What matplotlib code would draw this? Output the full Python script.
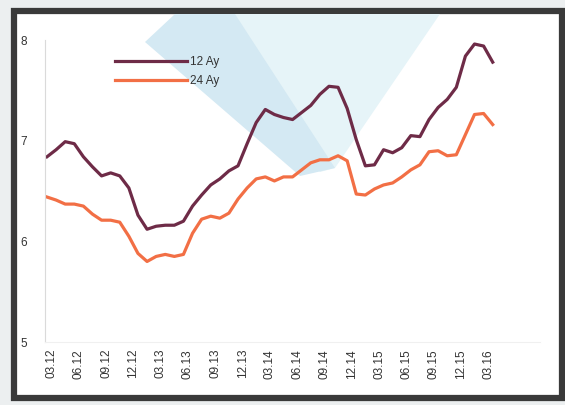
import matplotlib.pyplot as plt
from matplotlib.patches import Polygon, Rectangle
import numpy as np

plt.rcParams['font.family'] = ['Liberation Sans', 'DejaVu Sans']

# monthly values, 03.12 .. 04.16
ay12 = [6.84, 6.91, 6.99, 6.97, 6.84, 6.74, 6.65, 6.68, 6.65, 6.53,
        6.26, 6.12, 6.15, 6.16, 6.16, 6.20, 6.35, 6.46, 6.56, 6.62,
        6.70, 6.75, 6.97, 7.18, 7.31, 7.26, 7.23, 7.21, 7.28, 7.35,
        7.46, 7.54, 7.53, 7.32, 7.01, 6.75, 6.76, 6.91, 6.88, 6.93,
        7.05, 7.04, 7.21, 7.33, 7.41, 7.53, 7.84, 7.96, 7.94, 7.78]
ay24 = [6.44, 6.41, 6.37, 6.37, 6.35, 6.27, 6.21, 6.21, 6.19, 6.05,
        5.88, 5.80, 5.85, 5.87, 5.85, 5.87, 6.08, 6.22, 6.25, 6.23,
        6.28, 6.42, 6.53, 6.62, 6.64, 6.60, 6.64, 6.64, 6.71, 6.78,
        6.81, 6.81, 6.85, 6.80, 6.47, 6.46, 6.52, 6.56, 6.58, 6.64,
        6.71, 6.76, 6.89, 6.90, 6.85, 6.86, 7.06, 7.26, 7.27, 7.16]
tick_labels = ['03.12', '06.12', '09.12', '12.12', '03.13', '06.13', '09.13',
               '12.13', '03.14', '06.14', '09.14', '12.14', '03.15', '06.15',
               '09.15', '12.15', '03.16']

W, H = 565, 405
fig = plt.figure(figsize=(W / 100, H / 100), dpi=100)
fig.patch.set_facecolor('#eceff0')


def px(pts):
    # pixel coords (top-left origin) -> figure fraction
    return [(x / W, 1 - y / H) for x, y in pts]


# white slide + dark frame
fig.add_artist(Rectangle((14 / W, 1 - 398 / H), (562 - 14) / W, (398 - 11) / H,
                         transform=fig.transFigure, facecolor='white',
                         edgecolor='#3a3a3a', lw=4.5, zorder=0))
# light blue diagonal band behind the chart
fig.add_artist(Polygon(px([(175, 14), (440, 14), (335, 168), (320, 172)]),
                       closed=True, transform=fig.transFigure,
                       facecolor='#e6f4f8', edgecolor='none', zorder=0.5))
fig.add_artist(Polygon(px([(145, 42), (175, 14), (235, 14), (335, 168), (300, 176)]),
                       closed=True, transform=fig.transFigure,
                       facecolor='#d4e9f3', edgecolor='none', zorder=0.6))

ax = fig.add_axes([45 / W, 1 - 342 / H, (540 - 45) / W, (342 - 40) / H])
ax.set_zorder(2)
ax.patch.set_alpha(0)

x = np.arange(len(ay12))
ax.plot(x, ay12, color='#6e2b47', lw=2.3, label='12 Ay', solid_joinstyle='round')
ax.plot(x, ay24, color='#f26f45', lw=2.3, label='24 Ay', solid_joinstyle='round')

ax.set_xlim(-0.22, 54.2)
ax.set_ylim(5, 8)
ax.set_yticks([5, 6, 7, 8])
ax.set_yticklabels(['5', '6', '7', '8'])
ax.set_xticks(np.arange(len(tick_labels)) * 3 + 0.5)
ax.set_xticklabels(tick_labels, rotation=90)
ax.tick_params(axis='both', length=0, labelsize=8.5, colors='#333333')
ax.tick_params(axis='y', pad=13)
ax.tick_params(axis='x', pad=5)

for s in ['top', 'right']:
    ax.spines[s].set_visible(False)
ax.spines['left'].set_color('#dadada')
ax.spines['bottom'].set_color('#f0f0f0')

leg = ax.legend(loc='upper left', bbox_to_anchor=(0.13, 0.965), frameon=False,
                handlelength=6.1, handletextpad=0.25, labelspacing=0.55,
                fontsize=8.5, borderpad=0)
for t in leg.get_texts():
    t.set_color('#333333')

fig.savefig('out.png', dpi=100, facecolor=fig.get_facecolor())
